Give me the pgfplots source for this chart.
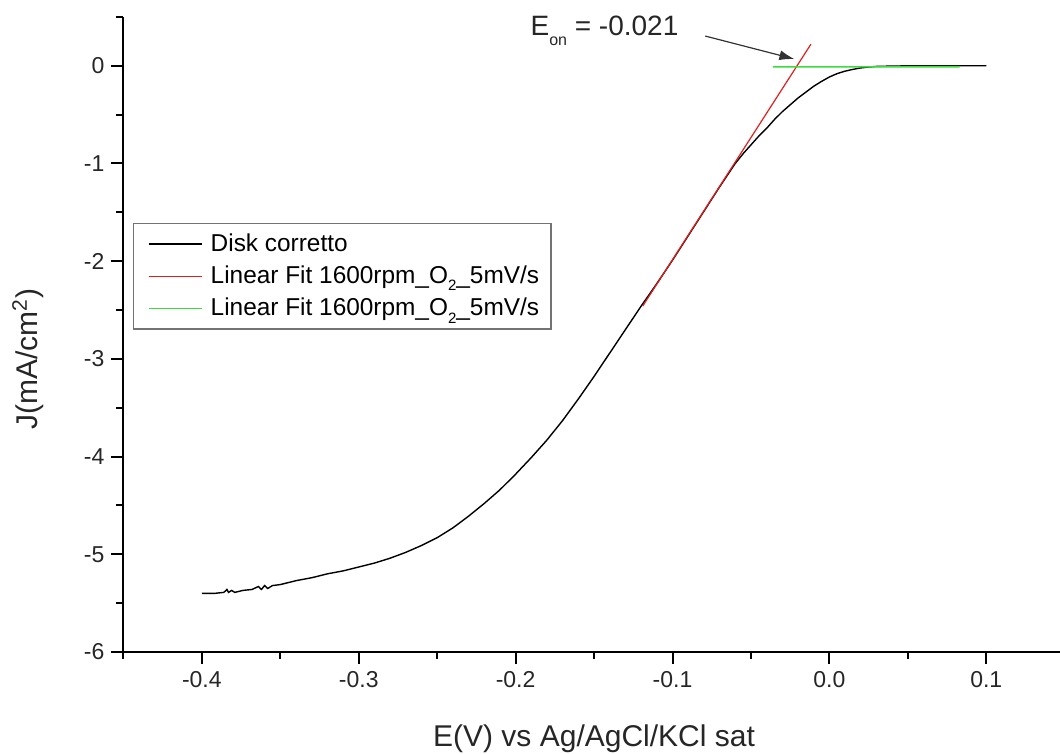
\documentclass[border=0pt]{standalone}
\usepackage{pgfplots}
\pgfplotsset{compat=1.18}
\usepackage{fontspec}
\setmainfont{Liberation Sans}
\usetikzlibrary{arrows.meta}
\definecolor{fitred}{RGB}{225,30,30}
\definecolor{fitgreen}{RGB}{60,220,60}
\newcommand{\lowsub}[1]{\raisebox{-0.55ex}{\fontsize{7.5}{8}\selectfont #1}}
\begin{document}
\begin{tikzpicture}
\begin{axis}[
  at={(0,0)}, anchor=south west,
  scale only axis,
  width=468.3pt, height=317.55pt,
  xmin=-0.45, xmax=0.147,
  ymin=-6, ymax=0.5,
  axis lines*=left,
  axis line style={line width=1pt,-},
  tick align=outside,
  major tick length=6pt,
  minor tick length=3.5pt,
  every tick/.style={line width=1pt,black},
  xtick={-0.4,-0.3,-0.2,-0.1,0,0.1},
  minor xtick={-0.45,-0.35,-0.25,-0.15,-0.05,0.05},
  ytick={-6,-5,-4,-3,-2,-1,0},
  minor ytick={-5.5,-4.5,-3.5,-2.5,-1.5,-0.5,0.5},
  /pgf/number format/assume math mode=true,
  xticklabel={\pgfmathprintnumber[fixed,fixed zerofill,precision=1]{\tick}},
  yticklabel={\pgfmathprintnumber[fixed,precision=0]{\tick}},
  ticklabel style={font=\fontsize{11.5}{13}\selectfont, text=black!85},
  xlabel={E(V) vs Ag/AgCl/KCl sat},
  ylabel={J(mA/cm\textsuperscript{2})},
  label style={font=\fontsize{15}{17}\selectfont, text=black!85},
  xlabel style={at={(axis description cs:0.5025,0)}, anchor=base, yshift=-47.5pt},
  ylabel style={at={(axis description cs:-0.102,0.461)}, anchor=center},
  clip=false,
  legend style={at={(axis description cs:0.0103,0.6755)}, anchor=north west,
    draw=black!55, line width=0.7pt, font=\fontsize{12.2}{14}\selectfont,
    inner xsep=4pt, inner ysep=3pt, row sep=1.8pt},
  legend cell align=left,
  legend image code/.code={\draw[#1] (3.5pt,0pt) -- (30pt,0pt); \draw[draw=none] (0pt,0pt) -- (32.5pt,0pt);},
]
\addplot[black, line width=0.7pt] coordinates {
(-0.400,-5.40) (-0.392,-5.40) (-0.386,-5.39) (-0.384,-5.36) (-0.383,-5.39)
(-0.381,-5.37) (-0.379,-5.39) (-0.374,-5.37) (-0.368,-5.36) (-0.364,-5.33)
(-0.362,-5.36) (-0.360,-5.32) (-0.358,-5.35) (-0.355,-5.32) (-0.350,-5.31)
(-0.340,-5.27) (-0.330,-5.24) (-0.320,-5.20) (-0.310,-5.17) (-0.300,-5.13)
(-0.290,-5.09) (-0.280,-5.04) (-0.270,-4.98) (-0.260,-4.91) (-0.250,-4.83)
(-0.240,-4.73) (-0.230,-4.61) (-0.220,-4.48) (-0.210,-4.34) (-0.200,-4.18)
(-0.190,-4.01) (-0.180,-3.83) (-0.170,-3.63) (-0.160,-3.41) (-0.150,-3.18)
(-0.140,-2.94) (-0.130,-2.70) (-0.120,-2.46) (-0.110,-2.23) (-0.100,-1.99)
(-0.090,-1.74) (-0.080,-1.49) (-0.070,-1.24) (-0.060,-1.00) (-0.055,-0.90)
(-0.050,-0.81) (-0.045,-0.72) (-0.040,-0.64) (-0.035,-0.55) (-0.030,-0.47)
(-0.025,-0.40) (-0.020,-0.33) (-0.015,-0.27) (-0.010,-0.21) (-0.005,-0.16)
(0.000,-0.115) (0.005,-0.080) (0.010,-0.055) (0.015,-0.037) (0.020,-0.022)
(0.025,-0.013) (0.030,-0.007) (0.040,-0.003) (0.050,-0.001) (0.070,0.000)
(0.100,0.000)
};
\addlegendentry{Disk corretto}
\addplot[fitred, line width=0.6pt] coordinates {(-0.119,-2.46) (-0.0118,0.22)};
\addlegendentry{Linear Fit 1600rpm\_O\lowsub{2}\_5mV/s}
\addplot[fitgreen, line width=0.8pt] coordinates {(-0.036,-0.012) (0.083,-0.010)};
\addlegendentry{Linear Fit 1600rpm\_O\lowsub{2}\_5mV/s}
\node[anchor=base west, inner sep=0pt, font=\fontsize{14}{16}\selectfont, text=black!85]
  at (axis cs:-0.1907,0.314) {E\raisebox{-0.7ex}{\fontsize{8}{9}\selectfont on} = -0.021};
\draw[black!80, line width=0.6pt, -{Latex[length=7.5pt,width=5pt]}]
  (axis cs:-0.0791,0.304) -- (axis cs:-0.0223,0.0686);
\end{axis}
\pgfresetboundingbox
\path (-61.7pt,-51pt) rectangle (468.3pt,326pt);
\end{tikzpicture}
\end{document}
